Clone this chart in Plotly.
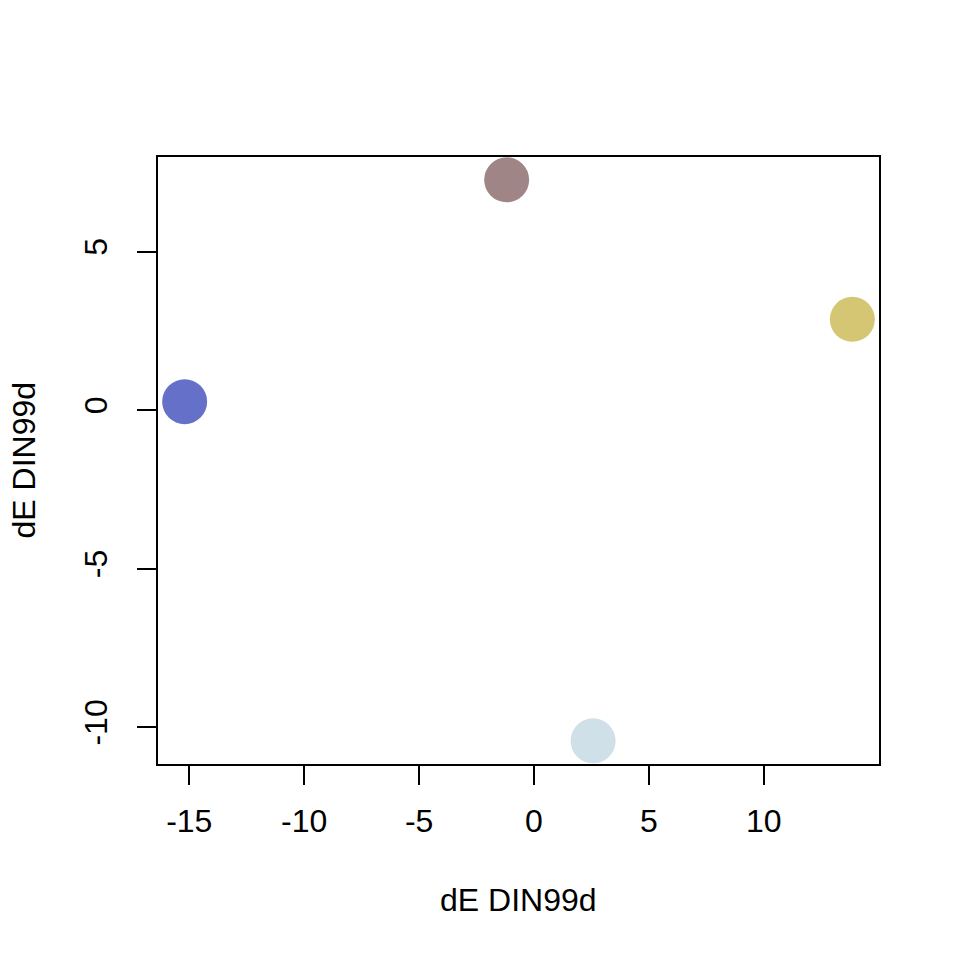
import plotly.graph_objects as go

# Data
x_vals = [-15.20, -1.19, 13.85, 2.57]
y_vals = [0.27, 7.27, 2.87, -10.43]
colors = ["#6571C9", "#A08586", "#D4C672", "#CFE0E8"]
x_ticks = [-15, -10, -5, 0, 5, 10]
y_ticks = [-10, -5, 0, 5]
x_title = "dE DIN99d"
y_title = "dE DIN99d"

fig = go.Figure()
fig.add_trace(go.Scatter(
    x=x_vals, y=y_vals, mode="markers",
    marker=dict(size=45, color=colors, line=dict(width=0)),
    hoverinfo="x+y", showlegend=False,
))

font = dict(family="Liberation Sans, Arial, sans-serif", size=32, color="black")

axis_common = dict(
    showgrid=False, zeroline=False,
    showline=True, linecolor="black", linewidth=2, mirror=True,
    ticks="outside", ticklen=19, tickwidth=2, tickcolor="black",
    tickfont=font,
)

fig.update_xaxes(range=[-16.36, 15.01], tickvals=x_ticks,
                 ticktext=[str(v) for v in x_ticks],
                 ticklabelstandoff=9, **axis_common)
fig.update_yaxes(range=[-11.16, 7.99], tickvals=y_ticks,
                 ticktext=[str(v) for v in y_ticks],
                 tickangle=-90, ticklabelstandoff=17, **axis_common)

fig.add_annotation(text=x_title, xref="paper", yref="paper", x=0.5, y=0,
                   xanchor="center", yanchor="middle", yshift=-136,
                   showarrow=False, font=font)
fig.add_annotation(text=y_title, xref="paper", yref="paper", x=0, y=0.5,
                   xanchor="center", yanchor="middle", xshift=-135,
                   textangle=-90, showarrow=False, font=font)

fig.update_layout(
    width=960, height=960,
    margin=dict(l=158, r=81, t=157, b=196, pad=0),
    plot_bgcolor="white", paper_bgcolor="white",
)

# Remove the default 8px body margin so the 960px figure fills the window
fig.write_html("out.html",
               config={"displayModeBar": False},
               post_script="document.body.style.margin='0';")
